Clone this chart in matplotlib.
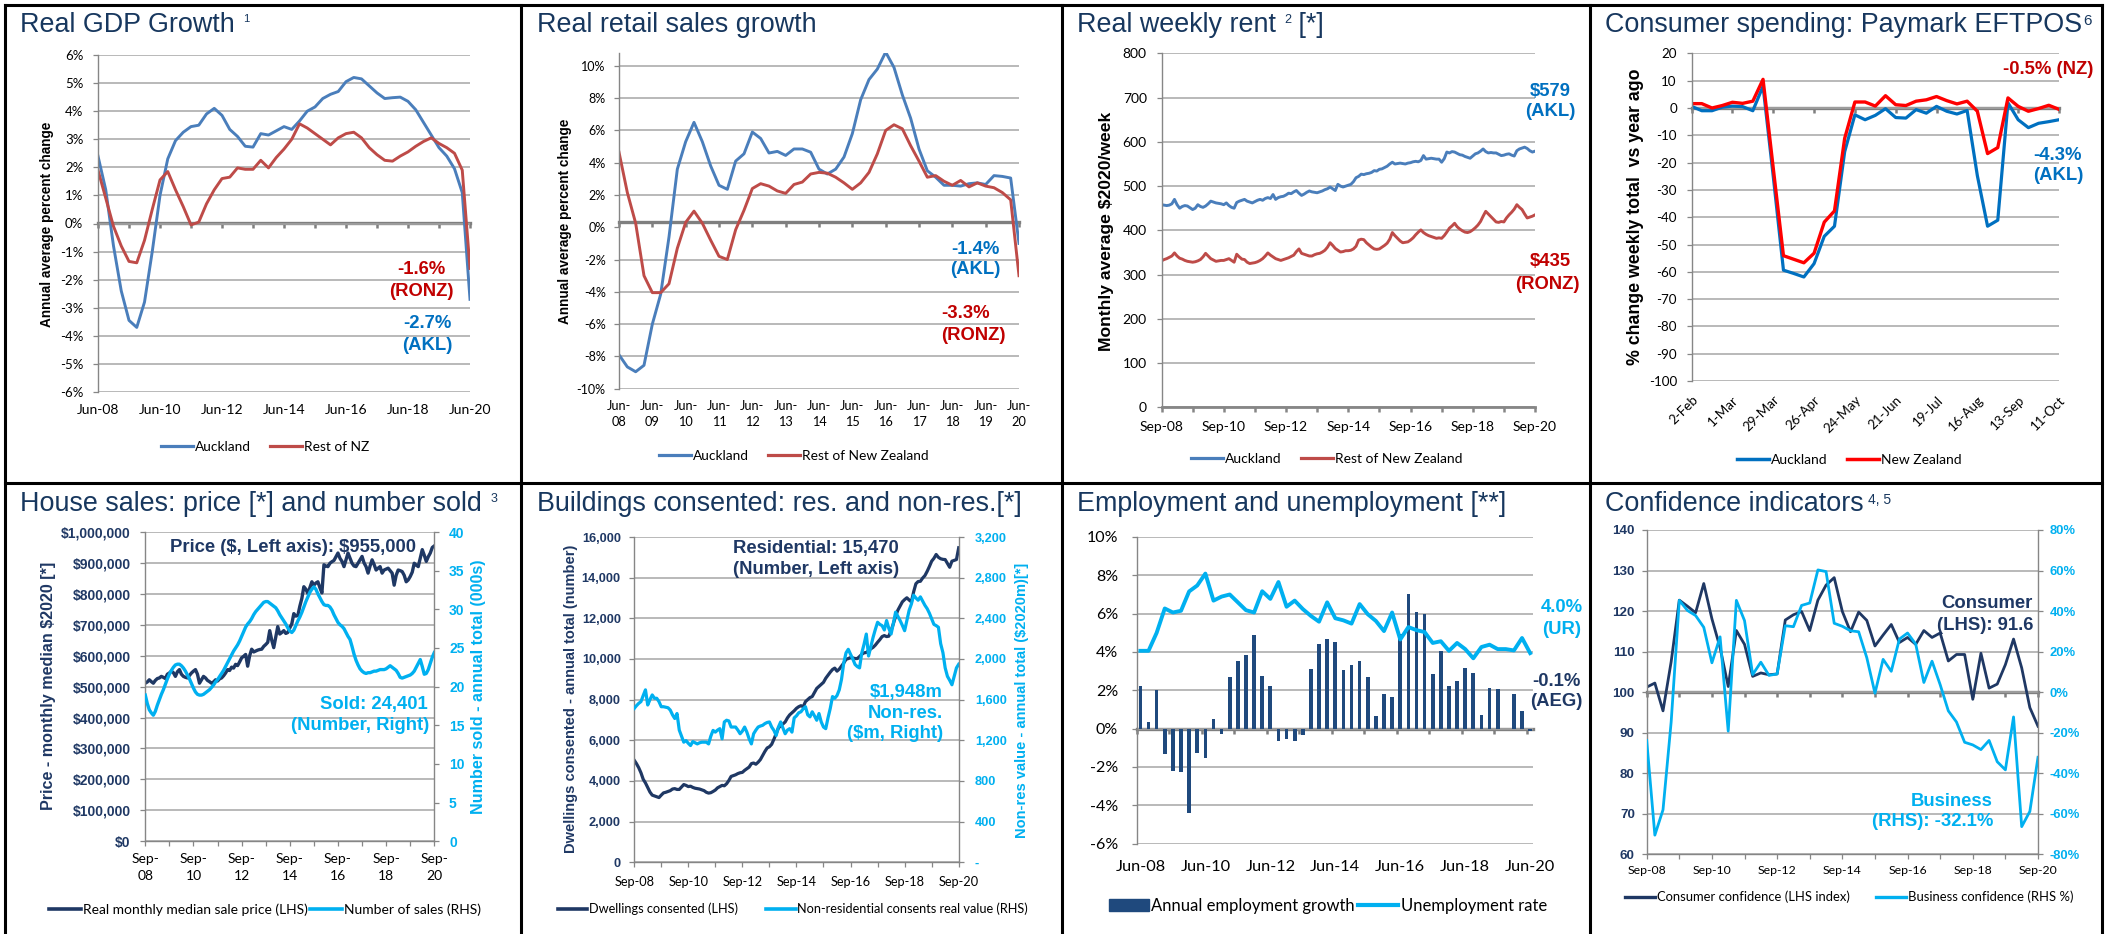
#!/usr/bin/env python3
"""Auckland economy dashboard: eight small Excel-style panels on one page.

Writes out.png (2105x934).
"""
import numpy as np
import matplotlib
matplotlib.use("Agg")
import matplotlib.pyplot as plt
from matplotlib.lines import Line2D
from matplotlib.patches import Patch

# ---- data ----------------------------------------------------------------- #
# Real GDP growth, annual average %, quarterly Jun-08 .. Jun-20
gdp_akl = [2.4, 1.2, -0.8, -2.4, -3.45, -3.7, -2.8, -1.0, 1.0, 2.3,
           2.95, 3.25, 3.45, 3.5, 3.9, 4.1, 3.85, 3.35, 3.1, 2.75,
           2.72, 3.2, 3.15, 3.3, 3.45, 3.35, 3.65, 4.0, 4.15, 4.45,
           4.6, 4.7, 5.05, 5.2, 5.15, 4.9, 4.65, 4.45, 4.48, 4.5,
           4.35, 4.05, 3.6, 3.15, 2.7, 2.4, 1.95, 1.1, -2.7]
gdp_ronz = [1.9, 0.9, -0.1, -0.8, -1.35, -1.4, -0.6, 0.5, 1.55, 1.85,
            1.2, 0.6, -0.05, 0.05, 0.7, 1.2, 1.6, 1.65, 1.98, 1.93,
            1.93, 2.25, 1.98, 2.35, 2.65, 3.0, 3.55, 3.4, 3.2, 3.0,
            2.8, 3.05, 3.2, 3.25, 3.05, 2.7, 2.45, 2.25, 2.22, 2.4,
            2.55, 2.75, 2.92, 3.05, 2.85, 2.7, 2.5, 1.9, -1.6]
gdp_xlabels = ["Jun-08", "Jun-10", "Jun-12", "Jun-14", "Jun-16", "Jun-18", "Jun-20"]

# Real retail sales growth, annual average %, quarterly Jun-08 .. Jun-20
retail_akl = [-7.9, -8.65, -8.95, -8.55, -6.0, -4.15, -0.6, 3.6, 5.3, 6.5,
              5.3, 3.8, 2.6, 2.35, 4.1, 4.55, 5.9, 5.5, 4.6, 4.7,
              4.45, 4.85, 4.85, 4.65, 3.6, 3.3, 3.6, 4.35, 5.8, 7.9,
              9.15, 9.8, 10.85, 9.9, 8.2, 6.75, 4.85, 3.5, 3.1, 2.6,
              2.6, 2.55, 2.7, 2.75, 2.65, 3.2, 3.15, 3.05, -1.0]
retail_ronz = [4.65, 2.15, 0.25, -3.0, -4.05, -4.05, -3.5, -1.3, 0.3, 1.0,
               0.25, -0.8, -1.8, -2.0, -0.15, 1.05, 2.4, 2.7, 2.55, 2.25,
               2.1, 2.65, 2.8, 3.3, 3.4, 3.35, 3.1, 2.75, 2.35, 2.75,
               3.4, 4.55, 6.0, 6.35, 6.1, 5.05, 4.1, 3.1, 3.2, 2.85,
               2.6, 2.9, 2.5, 2.75, 2.55, 2.45, 2.15, 1.7, -3.0]
retail_xlabels = ["Jun-\n08", "Jun-\n09", "Jun-\n10", "Jun-\n11", "Jun-\n12", "Jun-\n13", "Jun-\n14",
                  "Jun-\n15", "Jun-\n16", "Jun-\n17", "Jun-\n18", "Jun-\n19", "Jun-\n20"]

# Real weekly rent, $2020/week, monthly Sep-08 .. Sep-20
rent_akl = [458, 457, 456, 457, 460, 470, 458, 450, 454, 456, 455, 451,
            447, 450, 458, 454, 452, 455, 460, 466, 464, 462, 461, 460,
            458, 462, 456, 452, 450, 463, 466, 468, 470, 466, 464, 462,
            465, 468, 470, 468, 472, 474, 472, 481, 470, 474, 476, 477,
            480, 484, 483, 487, 490, 484, 479, 482, 486, 489, 487, 486,
            485, 487, 489, 492, 494, 498, 494, 490, 504, 500, 498, 500,
            502, 504, 510, 519, 522, 527, 526, 528, 529, 531, 535, 534,
            538, 539, 542, 545, 550, 554, 550, 551, 552, 551, 550, 552,
            553, 555, 556, 555, 558, 569, 561, 562, 563, 562, 561, 561,
            554, 562, 577, 575, 578, 577, 574, 571, 570, 567, 565, 563,
            568, 573, 575, 579, 584, 578, 575, 576, 575, 575, 572, 569,
            570, 572, 573, 570, 568, 580, 584, 586, 588, 585, 580, 577,
            579]
rent_ronz = [331, 334, 336, 339, 342, 349, 342, 337, 335, 332, 330, 329,
             328, 329, 331, 334, 340, 348, 342, 336, 333, 330, 331, 332,
             332, 334, 336, 332, 328, 346, 340, 335, 334, 328, 325, 326,
             327, 329, 332, 336, 342, 349, 344, 340, 336, 334, 332, 334,
             336, 338, 341, 344, 352, 358, 348, 346, 344, 342, 342, 345,
             347, 348, 351, 355, 362, 372, 366, 359, 355, 351, 352, 354,
             354, 355, 358, 364, 378, 380, 379, 372, 367, 362, 358, 357,
             358, 362, 366, 371, 380, 395, 388, 382, 376, 372, 373, 374,
             378, 383, 390, 396, 401, 395, 391, 388, 386, 384, 382, 383,
             382, 388, 396, 405, 410, 416, 408, 403, 399, 396, 395, 397,
             401, 406, 412, 420, 432, 443, 437, 431, 425, 419, 418, 420,
             419, 428, 435, 441, 448, 458, 452, 447, 437, 428, 430, 432,
             435]
sep_xlabels = ["Sep-08", "Sep-10", "Sep-12", "Sep-14", "Sep-16", "Sep-18", "Sep-20"]

# Paymark EFTPOS, % change weekly total vs year ago, weekly 2-Feb .. 11-Oct
eft_akl = [0.6, -1.0, -1.0, 0.3, 0.7, 0.5, -1.0, 8.0, -25.0, -59.4,
           -60.6, -61.9, -57.0, -47.0, -43.3, -16.0, -2.5, -4.3, -2.7, -0.25,
           -3.5, -3.7, -0.6, -1.9, 0.6, -1.2, -2.2, -0.9, -24.8, -43.3,
           -41.1, 1.9, -4.3, -7.2, -5.6, -5.0, -4.3]
eft_nz = [1.6, 1.6, 0.0, 0.9, 2.1, 1.7, 2.5, 10.5, -22.0, -54.1,
          -55.4, -56.7, -53.2, -41.8, -37.7, -11.1, 2.2, 2.2, 0.7, 4.5,
          1.2, 0.9, 2.5, 3.0, 4.2, 2.7, 1.5, 2.5, -1.2, -16.7,
          -14.5, 3.7, 0.6, -1.2, -0.2, 1.0, -0.5]
eft_xlabels = ["2-Feb", "1-Mar", "29-Mar", "26-Apr", "24-May", "21-Jun",
               "19-Jul", "16-Aug", "13-Sep", "11-Oct"]

# House sales: real monthly median price ($000) and annual number sold (000s)
house_price = [511, 515, 522, 516, 511, 520, 526, 528, 533, 530, 526, 540,
               544, 550, 545, 533, 548, 555, 540, 533, 530, 528, 536, 544,
               550, 555, 540, 511, 522, 533, 528, 520, 516, 511, 515, 522,
               518, 525, 528, 535, 544, 555, 552, 563, 560, 572, 568, 580,
               593, 598, 604, 566, 600, 621, 612, 615, 618, 620, 621, 630,
               636, 643, 681, 650, 626, 660, 694, 670, 675, 681, 672, 675,
               690, 703, 736, 728, 730, 760, 785, 823, 815, 801, 820, 839,
               828, 835, 839, 820, 803, 894, 890, 888, 899, 904, 908, 920,
               932, 915, 905, 888, 910, 932, 915, 899, 890, 888, 899, 910,
               921, 900, 888, 867, 890, 910, 895, 877, 883, 888, 867, 877,
               880, 883, 875, 867, 828, 860, 877, 875, 872, 860, 839, 845,
               856, 870, 899, 893, 888, 915, 943, 925, 905, 920, 932, 950,
               955]
house_sold = [18.9, 17.8, 17.0, 16.6, 16.3, 16.8, 17.6, 18.3, 19.0, 19.6, 20.3, 21.0,
              21.6, 22.1, 22.5, 22.8, 22.9, 22.9, 22.7, 22.4, 22.0, 21.5, 21.0, 20.4,
              19.8, 19.3, 19.0, 18.9, 18.9, 19.0, 19.2, 19.4, 19.6, 19.9, 20.2, 20.6,
              20.9, 21.3, 21.7, 22.1, 22.6, 23.1, 23.6, 24.1, 24.6, 25.0, 25.4, 25.9,
              26.5, 27.1, 27.7, 28.1, 28.4, 28.8, 29.3, 29.7, 30.0, 30.3, 30.6, 30.9,
              31.0, 31.0, 30.8, 30.6, 30.4, 30.2, 29.8, 29.3, 28.9, 28.5, 28.1, 27.6,
              27.2, 27.0, 27.3, 27.9, 28.5, 29.0, 29.6, 30.3, 31.0, 31.6, 32.2, 32.6,
              32.9, 32.6, 32.0, 31.5, 31.0, 30.6, 30.5, 30.5, 30.3, 29.9, 29.3, 28.8,
              28.3, 28.0, 27.8, 27.5, 27.0, 26.5, 26.1, 25.2, 24.2, 23.4, 22.8, 22.3,
              22.0, 21.8, 21.7, 21.8, 21.8, 21.9, 22.0, 22.0, 22.1, 22.2, 22.2, 22.2,
              22.3, 22.5, 22.7, 22.5, 22.3, 22.1, 21.7, 21.2, 21.1, 21.2, 21.3, 21.4,
              21.5, 21.7, 22.0, 22.5, 23.0, 23.5, 22.6, 21.6, 21.7, 22.2, 23.0, 23.8,
              24.4]
house_xlabels = ["Sep-\n08", "Sep-\n10", "Sep-\n12", "Sep-\n14", "Sep-\n16", "Sep-\n18", "Sep-\n20"]

# Building consents: dwellings (000s, annual) and non-res value ($2020m, annual)
dwellings = [5.02, 4.85, 4.65, 4.40, 4.08, 3.90, 3.68, 3.45, 3.30, 3.26, 3.22, 3.18,
             3.30, 3.41, 3.44, 3.48, 3.52, 3.60, 3.62, 3.58, 3.58, 3.70, 3.82, 3.78,
             3.72, 3.74, 3.68, 3.64, 3.62, 3.60, 3.56, 3.52, 3.44, 3.40, 3.42, 3.48,
             3.55, 3.66, 3.72, 3.78, 3.76, 3.86, 4.02, 4.22, 4.26, 4.30, 4.36, 4.40,
             4.42, 4.52, 4.60, 4.68, 4.85, 4.88, 4.82, 4.92, 5.05, 5.25, 5.45, 5.62,
             5.68, 5.80, 6.05, 6.32, 6.60, 6.72, 6.80, 6.90, 7.10, 7.25, 7.35, 7.45,
             7.57, 7.65, 7.70, 7.65, 7.90, 8.00, 8.10, 8.15, 8.35, 8.55, 8.65, 8.75,
             8.85, 9.05, 9.20, 9.35, 9.48, 9.55, 9.40, 9.50, 9.65, 9.80, 9.98, 10.02,
             10.07, 10.05, 10.02, 10.02, 10.12, 10.23, 10.30, 10.32, 10.40, 10.50, 10.57, 10.68,
             10.82, 10.95, 11.10, 11.15, 11.10, 11.12, 11.40, 11.73, 12.10, 12.40, 12.60, 12.81,
             12.92, 13.01, 12.90, 12.81, 13.30, 13.70, 13.81, 13.82, 13.98, 14.10, 14.31, 14.55,
             14.81, 14.95, 15.14, 15.00, 14.93, 14.90, 14.89, 14.70, 14.51, 14.81, 14.85, 14.89,
             15.47]
nonres = [1513, 1540, 1563, 1580, 1640, 1696, 1547, 1600, 1646, 1613, 1613, 1580,
          1530, 1530, 1525, 1520, 1497, 1450, 1414, 1463, 1300, 1240, 1181, 1197,
          1170, 1148, 1187, 1175, 1164, 1175, 1181, 1181, 1181, 1164, 1240, 1297,
          1280, 1300, 1314, 1214, 1380, 1397, 1390, 1330, 1330, 1330, 1300, 1264,
          1290, 1330, 1280, 1214, 1164, 1264, 1300, 1330, 1340, 1347, 1364, 1375,
          1380, 1330, 1297, 1247, 1330, 1380, 1320, 1264, 1300, 1314, 1280, 1420,
          1440, 1470, 1480, 1510, 1530, 1450, 1430, 1480, 1440, 1397, 1463, 1380,
          1330, 1314, 1420, 1513, 1630, 1613, 1640, 1696, 1800, 1962, 2060, 2095,
          2046, 2000, 1946, 1925, 1912, 2060, 2145, 2245, 2029, 2120, 2212, 2290,
          2361, 2340, 2328, 2285, 2378, 2300, 2245, 2350, 2461, 2420, 2378, 2330,
          2278, 2380, 2478, 2540, 2628, 2600, 2578, 2611, 2570, 2528, 2495, 2450,
          2395, 2340, 2328, 2312, 2150, 2062, 1912, 1829, 1790, 1746, 1830, 1912,
          1948]

# Employment: annual employment growth (%) and unemployment rate (%), quarterly
emp_growth = [2.2, 0.35, 2.0, -1.35, -2.2, -2.25, -4.4, -1.25, -1.55, 0.5,
              -0.3, 2.7, 3.55, 3.85, 4.9, 2.75, 2.2, -0.65, -0.55, -0.65,
              -0.35, 3.1, 4.4, 4.7, 4.5, 3.05, 3.3, 3.55, 2.7, 0.65,
              1.8, 1.65, 4.95, 7.05, 6.1, 6.0, 2.85, 4.05, 2.25, 2.5,
              3.15, 2.9, 0.7, 2.1, 2.05, 0.0, 1.8, 0.9, -0.1]
unemp_rate = [4.06, 4.06, 5.0, 6.27, 6.06, 6.15, 7.16, 7.47, 8.09, 6.68,
              6.89, 7.0, 6.59, 6.18, 6.06, 7.17, 6.77, 7.65, 6.36, 6.68,
              6.24, 5.88, 5.58, 6.59, 5.76, 5.65, 5.48, 6.5, 5.97, 5.62,
              5.09, 6.06, 4.65, 5.3, 5.14, 5.04, 4.47, 4.56, 4.06, 4.47,
              4.15, 3.67, 4.26, 4.38, 4.15, 4.15, 4.08, 4.73, 3.94]

# Confidence: consumer index (LHS) and business net % (RHS), quarterly Sep-08 .. Sep-20
conf_consumer = [101.25, 102.25, 95.4, 107.5, 122.7, 121.2, 119.6, 126.8, 118.1, 111.0,
                 101.4, 115.2, 111.8, 103.9, 104.75, 104.3, 104.5, 117.8, 119.1, 119.9,
                 115.2, 122.7, 126.4, 128.25, 119.9, 114.9, 119.75, 117.7, 111.4, 114.1,
                 116.7, 112.25, 113.5, 111.8, 115.2, 113.5, 114.6, 107.7, 109.3, 109.3,
                 98.25, 109.6, 101.0, 102.0, 106.8, 113.1, 106.0, 96.2, 91.6]
conf_business = [-23.8, -70.5, -58.0, -14.7, 45.3, 40.3, 37.8, 32.0, 14.5, 27.3,
                 -19.2, 45.3, 35.3, 8.7, 14.8, 8.3, 9.0, 32.8, 32.3, 42.8,
                 44.0, 60.3, 59.5, 34.0, 32.5, 30.3, 29.8, 17.0, -0.5, 16.2,
                 10.3, 26.2, 29.2, 23.7, 4.8, 15.3, 3.7, -9.2, -14.7, -24.7,
                 -26.0, -28.3, -23.8, -34.3, -38.3, -12.2, -66.3, -58.8, -32.1]

# ---- style ---------------------------------------------------------------- #
W, H = 2105, 934
PX = 0.72                      # points per pixel at dpi 100
TITLE_C = "#17375E"
NAVY = "#1F3864"
BAR_NAVY = "#1F497D"
CYAN = "#00B0F0"
XL_BLUE = "#4A7EBB"
XL_RED = "#BE4B48"
ANN_BLUE = "#0070C0"
ANN_RED = "#C00000"
PURE_RED = "#FF0000"
GRID = "#A6A6A6"
AXIS = "#868686"
ZERO = "#7F7F7F"
ARIAL = ["Liberation Sans", "DejaVu Sans"]
CALIBRI = ["Lato", "DejaVu Sans"]
TITLE_SIZE = 19.4

plt.rcParams.update({"font.family": CALIBRI, "axes.linewidth": 1.0})
fig = plt.figure(figsize=(W / 100, H / 100), dpi=100)
fig.patch.set_facecolor("white")


def px_axes(x0, y0, x1, y1):
    return fig.add_axes([x0 / W, 1 - y1 / H, (x1 - x0) / W, (y1 - y0) / H])


def ftext(x, y, s, **kw):
    kw.setdefault("family", ARIAL)
    return fig.text(x / W, 1 - y / H, s, **kw)


def note(x, y, s, color, ha="center", size=13.3):
    ftext(x, y, s, color=color, ha=ha, va="center", fontsize=size, fontweight="bold")


def ylab(x, y, s, size, color="black"):
    ftext(x, y, s, rotation=90, ha="center", va="center", fontsize=size,
          fontweight="bold", color=color)


def title(host, x, y, parts):
    """parts: (text, None) for title text, (text, (size, gap_pt)) for superscripts."""
    first = ftext(x, y, parts[0][0], fontsize=TITLE_SIZE, color=TITLE_C, va="baseline")
    prev = first
    for text, sup in parts[1:]:
        if sup:
            prev = host.annotate(text, xy=(1, 1), xycoords=(prev, first), xytext=(sup[1], -1.5),
                                 textcoords="offset points", va="top", fontsize=sup[0],
                                 color=TITLE_C, family=ARIAL, annotation_clip=False)
        else:
            prev = host.annotate(text, xy=(1, 0), xycoords=(prev, first), va="bottom",
                                 fontsize=TITLE_SIZE, color=TITLE_C, family=ARIAL,
                                 annotation_clip=False)


def frame(ax, bottom=False, grid_skip=None):
    for side in ("top", "right", "bottom"):
        ax.spines[side].set_visible(False)
    ax.spines["left"].set_color(AXIS)
    if bottom:
        ax.spines["bottom"].set_visible(True)
        ax.spines["bottom"].set_color(AXIS)
    if grid_skip is None:
        ax.grid(axis="y", color=GRID, linewidth=1.1)
    else:
        for v in ax.get_yticks():
            if v != grid_skip:
                ax.axhline(v, color=GRID, linewidth=1.1, zorder=0.5)
    ax.set_axisbelow(True)


def yticks(ax, values, labels, size, color="black", family=CALIBRI, weight="normal", pad=7):
    ax.set_yticks(values, labels, fontsize=size, color=color, family=family, fontweight=weight)
    ax.tick_params(axis="y", length=5 * PX, width=0.9, color=AXIS, pad=pad)


def zero_axis(ax, y0, ticks, lw=2.4):
    lo, hi = ax.get_ylim()
    sec = ax.secondary_xaxis((y0 - lo) / (hi - lo))
    sec.set_alignment("bottom")
    sec.set_xticks(ticks)
    sec.tick_params(axis="x", length=5 * PX, width=1.8, color=ZERO, labelbottom=False)
    sec.spines["bottom"].set_color(ZERO)
    sec.spines["bottom"].set_linewidth(lw)


def twin_right(ax):
    ax2 = ax.twinx()
    for side in ("top", "left", "bottom"):
        ax2.spines[side].set_visible(False)
    ax2.spines["right"].set_color(AXIS)
    return ax2


def legend(ax, handles, labels, cx, cy, size, hl=2.3, cs=1.4):
    ax.legend(handles, labels, loc="center", bbox_to_anchor=(cx / W, 1 - cy / H),
              bbox_transform=fig.transFigure, ncol=len(handles), frameon=False,
              fontsize=size, handlelength=hl, handletextpad=0.15, columnspacing=cs,
              borderpad=0, borderaxespad=0)


def line_handle(color, lw):
    return Line2D([], [], color=color, lw=lw)


# ---- page frame ----------------------------------------------------------- #
for yy in (5, 483):
    fig.add_artist(Line2D([5 / W, 2102 / W], [1 - yy / H, 1 - yy / H], color="black", lw=2.2))
for xx in (5, 521, 1062, 1590, 2102):
    fig.add_artist(Line2D([xx / W, xx / W], [1 - 5 / H, 0], color="black", lw=2.2))

# ---- 1. Real GDP growth --------------------------------------------------- #
ax = px_axes(98, 55, 470, 392)
q = np.arange(len(gdp_akl))
ax.plot(q, gdp_akl, color=XL_BLUE, lw=2.1)
ax.plot(q, gdp_ronz, color=XL_RED, lw=2.1)
ax.set_xlim(0, 48)
ax.set_ylim(-6, 6)
yv = np.arange(-6, 7)
yticks(ax, yv, [f"{v}%" for v in yv], 9.5)
frame(ax)
ax.set_xticks(np.arange(0, 49, 8), gdp_xlabels, fontsize=10)
ax.tick_params(axis="x", length=0, pad=9)
zero_axis(ax, 0, np.arange(0, 49, 4))
ylab(47, 224, "Annual average percent change", 9.8)
title(ax, 20, 32, [("Real GDP Growth", None), ("1", (8, 6))])
note(421, 269, "-1.6%", ANN_RED)
note(421, 291, "(RONZ)", ANN_RED)
note(427, 324, "-2.7%", ANN_BLUE)
note(427, 345, "(AKL)", ANN_BLUE)
legend(ax, [line_handle(XL_BLUE, 2.3), line_handle(XL_RED, 2.3)], ["Auckland", "Rest of NZ"],
       265, 447, 9.9)

# ---- 2. Real retail sales growth ------------------------------------------ #
ax = px_axes(619, 53.4, 1019, 388.7)
q = np.arange(len(retail_akl))
ax.plot(q, retail_akl, color=XL_BLUE, lw=2.1)
ax.plot(q, retail_ronz, color=XL_RED, lw=2.1)
ax.set_xlim(0, 48)
ax.set_ylim(-10, 10.77)
yv = np.arange(-10, 11, 2)
yticks(ax, yv, [f"{v}%" for v in yv], 9, pad=6)
frame(ax, grid_skip=0)
ax.set_xticks(np.arange(0, 49, 4), retail_xlabels, fontsize=9.2, linespacing=1.45)
ax.tick_params(axis="x", length=0, pad=8)
zero_axis(ax, 0.3, np.arange(0, 49, 4))
ylab(565, 221, "Annual average percent change", 9.8)
title(ax, 537, 32, [("Real retail sales growth", None)])
note(975, 249, "-1.4%", ANN_BLUE)
note(975, 270, "(AKL)", ANN_BLUE)
note(966, 313, "-3.3%", ANN_RED)
note(973, 336, "(RONZ)", ANN_RED)
legend(ax, [line_handle(XL_BLUE, 2.3), line_handle(XL_RED, 2.3)],
       ["Auckland", "Rest of New Zealand"], 794, 456, 9.9)

# ---- 3. Real weekly rent --------------------------------------------------- #
ax = px_axes(1161.5, 53.4, 1535, 407.3)
m = np.arange(len(rent_akl))
ax.plot(m, rent_akl, color=XL_BLUE, lw=2.1)
ax.plot(m, rent_ronz, color=XL_RED, lw=2.1)
ax.set_xlim(0, 144)
ax.set_ylim(0, 800)
yv = np.arange(0, 801, 100)
yticks(ax, yv, [f"{v}" for v in yv], 10, pad=7)
frame(ax, bottom=True)
ax.spines["bottom"].set_linewidth(2.0)
ax.set_xticks(np.arange(0, 145, 24), sep_xlabels, fontsize=10)
ax.set_xticks(np.arange(0, 145, 12), minor=True)
ax.tick_params(axis="x", which="both", length=5 * PX, width=1.8, color=AXIS, pad=6)
ylab(1107, 231, "Monthly average $2020/week", 12.6)
title(ax, 1077, 32, [("Real weekly rent", None), ("2", (9, 6)), (" [*]", None)])
note(1550, 91, "$579", ANN_BLUE)
note(1550, 111, "(AKL)", ANN_BLUE)
note(1550, 262, "$435", ANN_RED)
note(1547, 284, "(RONZ)", ANN_RED)
legend(ax, [line_handle(XL_BLUE, 2.3), line_handle(XL_RED, 2.3)],
       ["Auckland", "Rest of New Zealand"], 1327, 459, 10)

# ---- 4. Consumer spending: Paymark EFTPOS --------------------------------- #
ax = px_axes(1691.6, 53.4, 2059, 381)
w = np.arange(len(eft_akl))
ax.plot(w, eft_akl, color=ANN_BLUE, lw=2.3)
ax.plot(w, eft_nz, color=PURE_RED, lw=2.4)
ax.set_xlim(0, 36)
ax.set_ylim(-100, 20)
yv = np.arange(-100, 21, 10)
yticks(ax, yv, [f"{v}" for v in yv], 9.6, pad=7)
frame(ax)
ax.set_xticks(np.arange(0, 37, 4), eft_xlabels, fontsize=9.6, rotation=45, ha="right",
              rotation_mode="anchor")
ax.tick_params(axis="x", length=0, pad=9)
zero_axis(ax, 0, np.arange(0, 37, 4))
ylab(1635, 217, "% change weekly total  vs year ago", 12.8)
title(ax, 1605, 32, [("Consumer spending: Paymark EFTPOS", None), ("6", (11, 0.5))])
note(2048, 70, "-0.5% (NZ)", ANN_RED)
note(2058, 156, "-4.3%", ANN_BLUE)
note(2058, 176, "(AKL)", ANN_BLUE)
legend(ax, [line_handle(ANN_BLUE, 2.5), line_handle(PURE_RED, 2.5)],
       ["Auckland", "New Zealand"], 1849, 460, 10)

# ---- 5. House sales -------------------------------------------------------- #
ax = px_axes(145.3, 532, 434.3, 841.2)
m = np.arange(len(house_price))
ax.plot(m, house_price, color=NAVY, lw=2.4)
ax.set_xlim(0, 144)
ax.set_ylim(0, 1000)
yv = np.arange(0, 1001, 100)
yticks(ax, yv, [f"${v * 1000:,}" for v in yv], 10, color=NAVY, family=ARIAL, weight="bold", pad=7)
frame(ax, bottom=True)
ax.set_xticks(np.arange(0, 145, 24), house_xlabels, fontsize=10, linespacing=1.45)
ax.set_xticks(np.arange(0, 145, 12), minor=True)
ax.tick_params(axis="x", which="both", length=5 * PX, width=0.9, color=AXIS, pad=5)
ax2 = twin_right(ax)
ax2.plot(m, house_sold, color=CYAN, lw=2.4)
ax2.set_ylim(0, 40)
yv = np.arange(0, 41, 5)
yticks(ax2, yv, [f"{v}" for v in yv], 10, color=CYAN, family=ARIAL, weight="bold", pad=7)
ylab(48, 686, "Price - monthly median $2020 [*]", 11.6, NAVY)
ylab(479, 687, "Number sold - annual total (000s)", 11.6, CYAN)
title(ax, 20, 511, [("House sales: price [*] and number sold", None), ("3", (9, 6))])
note(293, 547, r"Price (\$, Left axis): \$955,000", NAVY)
note(428, 705, "Sold: 24,401", CYAN, ha="right")
note(429, 726, "(Number, Right)", CYAN, ha="right")
legend(ax2, [line_handle(NAVY, 2.6), line_handle(CYAN, 2.6)],
       ["Real monthly median sale price (LHS)", "Number of sales (RHS)"], 265, 910, 10, cs=0.2)

# ---- 6. Buildings consented ------------------------------------------------ #
ax = px_axes(634.2, 537, 958.7, 862.2)
m = np.arange(len(dwellings))
ax.plot(m, dwellings, color=NAVY, lw=2.3)
ax.set_xlim(0, 144)
ax.set_ylim(0, 16)
yv = np.arange(0, 17, 2)
yticks(ax, yv, [f"{v * 1000:,}" for v in yv], 9.2, color=NAVY, family=ARIAL, weight="bold", pad=6)
frame(ax, bottom=True)
ax.set_xticks(np.arange(0, 145, 24), sep_xlabels, fontsize=9.2)
ax.set_xticks(np.arange(0, 145, 12), minor=True)
ax.tick_params(axis="x", which="both", length=5 * PX, width=0.9, color=AXIS, pad=6)
ax2 = twin_right(ax)
ax2.plot(m, nonres, color=CYAN, lw=2.3)
ax2.set_ylim(0, 3200)
yv = np.arange(0, 3201, 400)
yticks(ax2, yv, ["-" if v == 0 else f"{v:,}" for v in yv], 9.2, color=CYAN, family=ARIAL,
       weight="bold", pad=8)
ylab(571, 699, "Dwellings consented - annual total (number)", 10.5, NAVY)
ylab(1022, 700, "Non-res value - annual total ($2020m)[*]", 10.5, CYAN)
title(ax, 537, 511, [("Buildings consented: res. and non-res.[*]", None)])
note(816, 548, "Residential: 15,470", NAVY)
note(816, 570, "(Number, Left axis)", NAVY)
note(943, 692, "$1,948m", CYAN, ha="right")
note(943, 713, "Non-res.", CYAN, ha="right")
note(943, 734, "($m, Right)", CYAN, ha="right")
legend(ax2, [line_handle(NAVY, 2.6), line_handle(CYAN, 2.6)],
       ["Dwellings consented (LHS)", "Non-residential consents real value (RHS)"], 793, 909, 9.2, cs=2.2)

# ---- 7. Employment and unemployment ---------------------------------------- #
ax = px_axes(1137, 537, 1533.4, 843.6)
q = np.arange(len(emp_growth))
ax.bar(q, emp_growth, width=0.45, color=BAR_NAVY, zorder=2)
ax.plot(q, unemp_rate, color=CYAN, lw=2.8, zorder=3)
ax.set_xlim(-0.42, 48.4)
ax.set_ylim(-6, 10)
yv = np.arange(-6, 11, 2)
yticks(ax, yv, [f"{v}%" for v in yv], 11.5, pad=10)
frame(ax)
ax.set_xticks(np.arange(0, 49, 8), gdp_xlabels, fontsize=11.8)
ax.tick_params(axis="x", length=0, pad=12)
zero_axis(ax, 0, np.arange(-0.42, 49, 4))
title(ax, 1077, 511, [("Employment and unemployment [**]", None)])
note(1562, 607, "4.0%", CYAN)
note(1562, 630, "(UR)", CYAN)
note(1556, 681, "-0.1%", NAVY)
note(1556, 702, "(AEG)", NAVY)
legend(ax, [Patch(color=BAR_NAVY), line_handle(CYAN, 3.0)],
       ["Annual employment growth", "Unemployment rate"], 1328, 906, 12, hl=2.4, cs=0.2)

# ---- 8. Confidence indicators ---------------------------------------------- #
ax = px_axes(1646.7, 530, 2038, 854.4)
q = np.arange(len(conf_consumer))
ax.plot(q, conf_consumer, color=NAVY, lw=2.0)
ax.set_xlim(0, 48)
ax.set_ylim(60, 140)
yv = np.arange(60, 141, 10)
yticks(ax, yv, [f"{v}" for v in yv], 9.6, color=NAVY, family=ARIAL, weight="bold", pad=5)
frame(ax, bottom=True)
ax.set_xticks(np.arange(0, 49, 8), sep_xlabels, fontsize=8.8)
ax.set_xticks(np.arange(0, 49, 4), minor=True)
ax.tick_params(axis="x", which="both", length=5 * PX, width=0.9, color=AXIS, pad=4)
zero_axis(ax, 100, np.arange(0, 49, 4))
ax2 = twin_right(ax)
ax2.plot(q, conf_business, color=CYAN, lw=2.0)
ax2.set_ylim(-80, 80)
yv = np.arange(-80, 81, 20)
yticks(ax2, yv, [f"{v}%" for v in yv], 9.4, color=CYAN, family=ARIAL, weight="bold", pad=5)
title(ax, 1605, 511, [("Confidence indicators", None), ("4, 5", (10, 3))])
note(2033, 603, "Consumer", NAVY, ha="right")
note(2033, 625, "(LHS): 91.6", NAVY, ha="right")
note(1993, 801, "Business", CYAN, ha="right")
note(1993, 822, "(RHS): -32.1%", CYAN, ha="right")
legend(ax2, [line_handle(NAVY, 2.4), line_handle(CYAN, 2.4)],
       ["Consumer confidence (LHS index)", "Business confidence (RHS %)"], 1849, 897, 9.4, cs=2.0)

fig.savefig("out.png", dpi=100, facecolor="white")
